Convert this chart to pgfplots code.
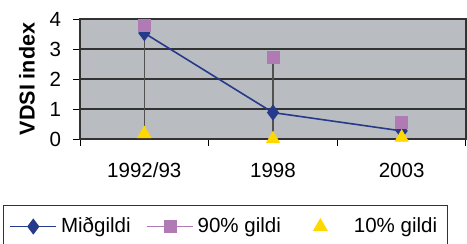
\documentclass[border=0pt]{standalone}
\usepackage{fontspec}
\setmainfont{Liberation Sans}
\usepackage{pgfplots}
\pgfplotsset{compat=1.18}
\definecolor{plotbg}{RGB}{185,189,193}
\definecolor{navy}{RGB}{38,58,140}
\definecolor{lila}{RGB}{176,122,181}
\definecolor{ygold}{RGB}{255,216,0}
\definecolor{gridc}{RGB}{50,50,50}
\begin{document}
\begin{tikzpicture}[x=1bp,y=1bp]
\useasboundingbox (0,0) rectangle (233.5,122);
\begin{axis}[
  at={(40bp,52.5bp)}, anchor=south west,
  scale only axis, width=193bp, height=60bp,
  xmin=0, xmax=3, ymin=0, ymax=4,
  clip=false,
  axis background/.style={fill=plotbg},
  axis line style={gridc, line width=0.6bp},
  xtick={0.5,1.5,2.5}, xticklabels={1992/93,1998,2003},
  minor xtick={0,1,2,3},
  ytick={0,1,2,3,4},
  ymajorgrids, grid style={gridc, line width=0.6bp},
  tick style={black, line width=0.5bp},
  major x tick style={draw=none},
  tick align=outside, tick pos=left,
  major tick length=3.5bp, minor tick length=3.5bp,
  /pgf/number format/assume math mode=true,
  every tick label/.append style={font=\fontsize{10.3}{12}\selectfont, text=black},
  yticklabel style={xshift=-2.5bp},
  xticklabel style={yshift=-5bp},
  ylabel={VDSI index},
  ylabel style={at={(axis description cs:-0.1373,0.5)}, anchor=center, font=\fontsize{10.8}{13}\selectfont\bfseries},
  legend image code/.code={\draw[mark repeat=2,mark phase=2,#1] plot coordinates {(0bp,0bp)(11.5bp,0bp)(23bp,0bp)};},
  legend columns=3,
  legend cell align=left,
  legend style={at={(axis description cs:-0.1995,-0.55)}, anchor=north west, draw=gridc, line width=0.5bp, fill=white,
    font=\fontsize{10.3}{12}\selectfont, inner xsep=3bp, inner ysep=4bp,
    /tikz/every even column/.append style={column sep=6bp}},
]
\addplot[gridc!85, line width=0.7bp, forget plot] coordinates {(0.5,0.17) (0.5,3.78)};
\addplot[gridc!85, line width=0.7bp, forget plot] coordinates {(1.5,0) (1.5,2.71)};
\addplot[gridc!85, line width=0.7bp, forget plot] coordinates {(2.5,0.05) (2.5,0.57)};
\addplot[navy, line width=0.8bp, mark=diamond*, mark size=3.4bp, mark options={solid, fill=navy}, forget plot]
  coordinates {(0.5,3.53) (1.5,0.88) (2.5,0.27)};
\addplot[only marks, mark=square*, mark size=3bp, mark options={draw=lila, fill=lila}, forget plot]
  coordinates {(0.5,3.78) (1.5,2.71) (2.5,0.57)};
\addplot[only marks, mark=triangle*, mark size=3.8bp, mark options={draw=ygold, fill=ygold}, forget plot]
  coordinates {(0.5,0.17) (1.5,0) (2.5,0.05)};
\addlegendimage{navy, line width=0.8bp, mark=diamond*, mark size=3.4bp, mark options={solid, fill=navy}}
\addlegendentry{\rule[-5bp]{0pt}{5bp}Miðgildi}
\addlegendimage{lila, line width=0.5bp, mark=square*, mark size=3bp, mark options={solid, draw=lila, fill=lila}}
\addlegendentry{\rule[-5bp]{0pt}{5bp}90\% gildi}
\addlegendimage{legend image code/.code={\path (0bp,0bp) (23bp,0bp); \path[draw=ygold, fill=ygold] plot[only marks, mark=triangle*, mark size=3.8bp] coordinates {(11.5bp,0bp)};}}
\addlegendentry{\rule[-5bp]{0pt}{5bp}\hspace{3bp}10\% gildi}
\end{axis}
\end{tikzpicture}
\end{document}
